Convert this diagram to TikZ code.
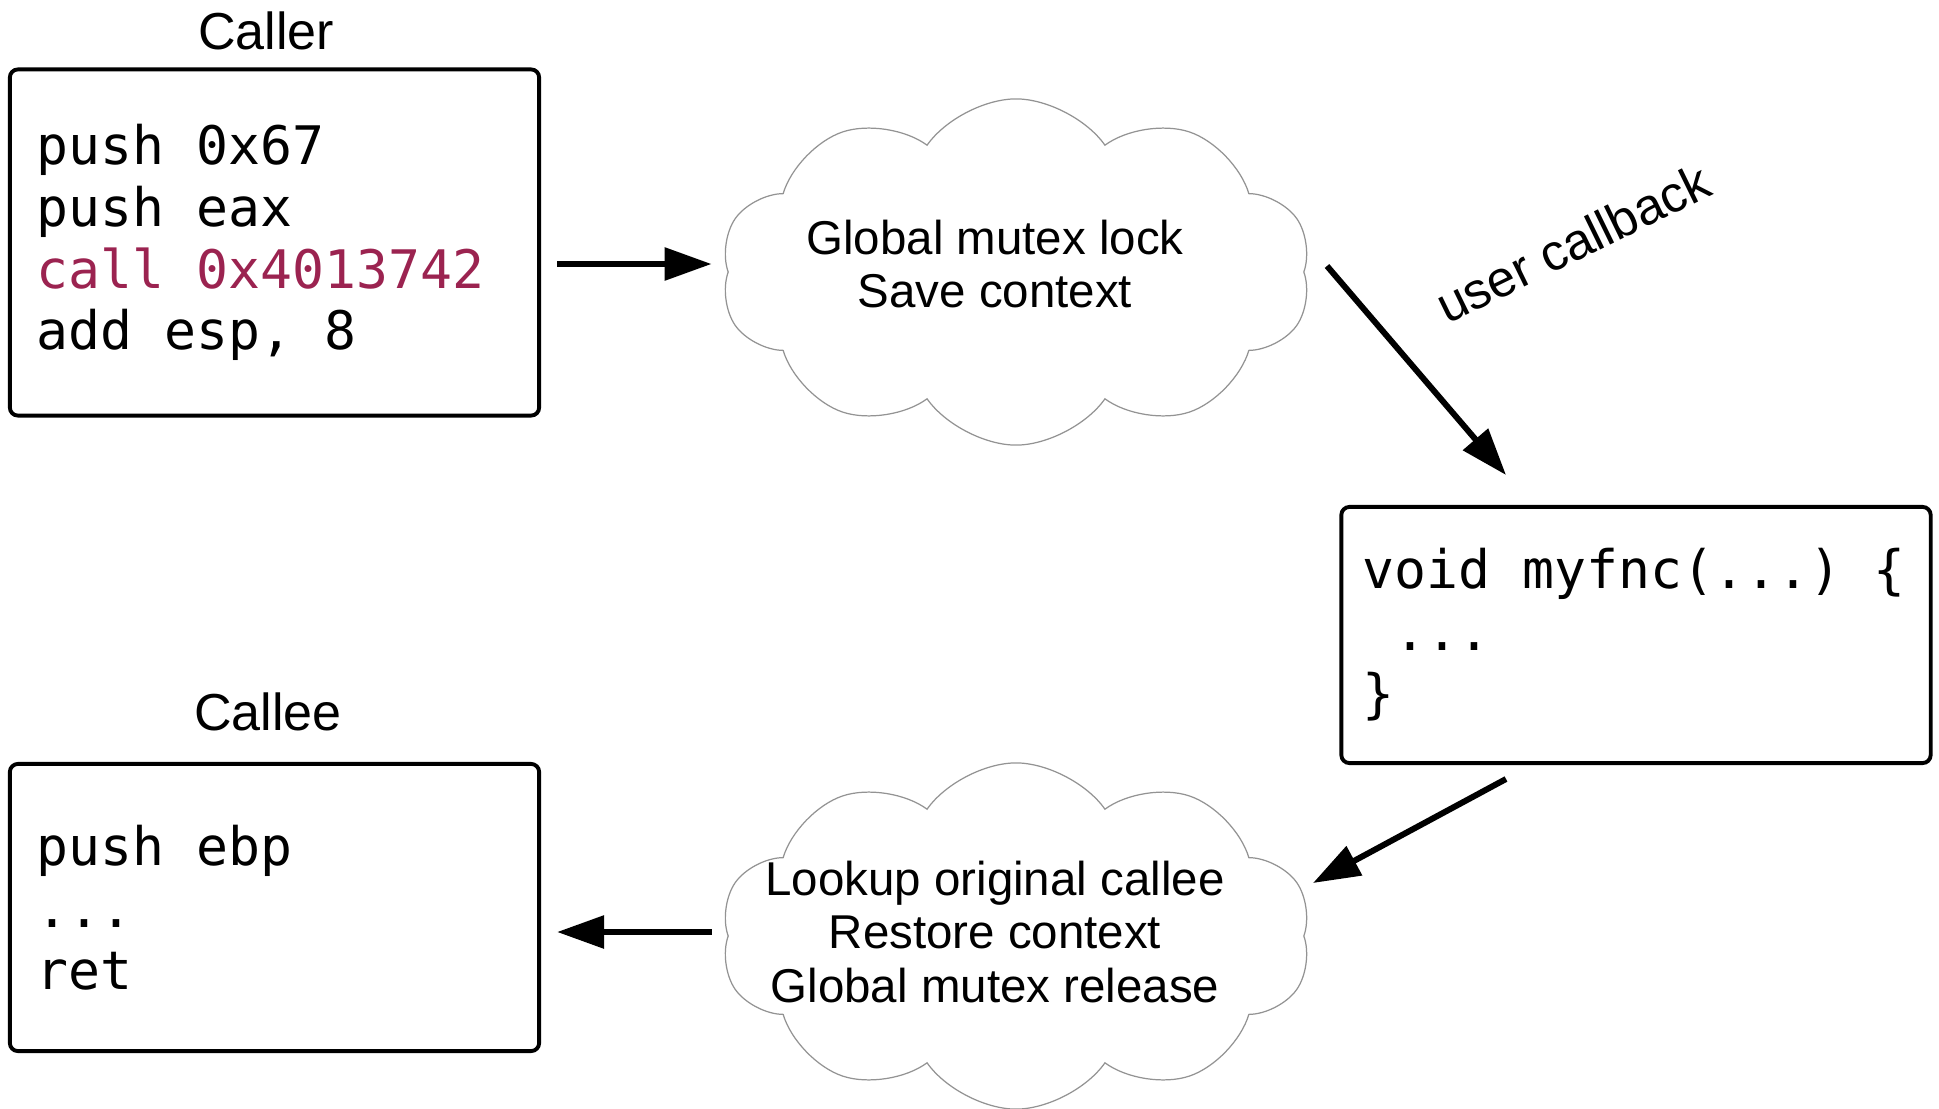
\documentclass[tikz,border=0pt]{standalone}
\usepackage{fontspec}
\setmainfont{Liberation Sans}
\setmonofont{DejaVu Sans Mono}
\usetikzlibrary{shapes.symbols,arrows.meta}
\definecolor{callred}{RGB}{155,35,80}

\begin{document}
\begin{tikzpicture}[x=0.01cm,y=-0.01cm,
  codebox/.style={draw,line width=1.1pt,rounded corners=2.3pt,align=flush left,
    font=\fontsize{15.1}{17.6}\selectfont\ttfamily,inner xsep=0.27cm},
  puff/.style={cloud,cloud puffs=10,cloud puff arc=110,draw=gray!85,
    line width=0.35pt,inner sep=0pt,minimum width=5.9cm,minimum height=3.46cm},
  cloudtext/.style={align=center,font=\fontsize{13.5}{15.2}\selectfont},
  title/.style={font=\fontsize{14.8}{17}\selectfont},
  flow/.style={line width=1.7pt,-{Triangle[length=0.47cm,width=0.32cm]}}]
  \useasboundingbox (0,0) rectangle (1939,1109);

  % Code boxes
  \node[title] (callerT) at (266,31) {Caller};
  \node[codebox,text width=4.75cm,minimum height=3.46cm] (caller) at (274.5,242.5)
    {push 0x67\\push eax\\\textcolor{callred}{call 0x4013742}\\add esp, 8};
  \node[title] (calleeT) at (268,712) {Callee};
  \node[codebox,text width=4.75cm,minimum height=2.87cm] (callee) at (274.5,907.5)
    {push ebp\\...\\ret};
  \node[codebox,inner xsep=0.21cm,text width=5.47cm,minimum height=2.56cm] (myfnc) at (1636,635)
    {void myfnc(...) \{\\~...\\\}};

  % Clouds
  \node[puff] (lock) at (1016,272) {};
  \node[cloudtext] (lockT) at (995,264) {Global mutex lock\\Save context};
  \node[puff] (release) at (1016,936) {};
  \node[cloudtext] (releaseT) at (995,932)
    {Lookup original callee\\Restore context\\Global mutex release};

  % Callback label
  \node[font=\fontsize{14.5}{17}\selectfont,rotate=26] (cbT) at (1573,243) {user callback};

  % Arrow ends
  \coordinate (cbfrom) at (1327,266);
  \coordinate (cbto) at (1506,475);
  \coordinate (backfrom) at (1506,779);
  \coordinate (backto) at (1313,883);

  \draw [flow,shorten <=0.16cm,shorten >=0.16cm] (caller.east |- lockT) to (lock.west |- lockT);
  \draw [flow] (cbfrom) to (cbto);
  \draw [flow] (backfrom) to (backto);
  \draw [flow,shorten <=0.16cm,shorten >=0.16cm] (release.west |- releaseT) to (callee.east |- releaseT);
\end{tikzpicture}
\end{document}
